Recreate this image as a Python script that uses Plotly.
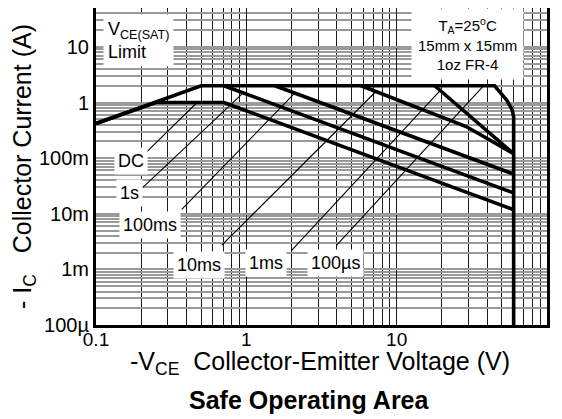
import numpy as np
import plotly.graph_objects as go

# ---- Data (V in volts, I in amps) ----
dc_v = [0.1, 0.25, 0.71, 60]
dc_i = [0.42, 1.0, 1.0, 0.0118]
s1_v = [0.71, 60]
s1_i = [2.0, 0.0237]
ms100_v = [1.55, 60]
ms100_i = [2.0, 0.0517]
ms10_v = [5.8, 29, 60]
ms10_i = [2.0, 0.37, 0.12]
ms1_v = [17.9, 60]
ms1_i = [2.0, 0.12]
us100_v = [0.1, 0.5, 44.8, 54, 58.5, 60, 60]
us100_i = [0.42, 2.0, 2.0, 1.1, 0.75, 0.55, 1e-4]

# Axis ticks
x_tickvals = [0.1, 1, 10, 100]
x_ticktext = ["0.1", "1", "10", "100"]
y_tickvals = [1e-4, 1e-3, 1e-2, 1e-1, 1, 10]
y_ticktext = ["100\u00b5", "1m", "10m", "100m", "1", "10"]

# Curve labels and leader lines
label_text = ["DC", "1s", "100ms", "10ms", "1ms", "100\u00b5s"]
label_v = [0.171, 0.168, 0.229, 0.483, 1.35, 3.94]
label_i = [0.0906, 0.0232, 0.0062, 0.00119, 0.00129, 0.00129]
leader_v0 = [0.215, 0.205, 0.372, 0.687, 2.0, 3.99]
leader_i0 = [0.126, 0.0297, 0.012, 0.00272, 0.0022, 0.00272]
leader_v1 = [0.47, 0.95, 2.1, 7.25, 19.3, 37.8]
leader_i1 = [1.0, 1.47, 1.48, 1.56, 1.6, 2.0]

FONT = "Liberation Sans, Arial, sans-serif"

fig = go.Figure()

# thin leader lines
for k in range(len(label_text)):
    fig.add_trace(go.Scatter(
        x=[leader_v0[k], leader_v1[k]], y=[leader_i0[k], leader_i1[k]],
        mode="lines", line=dict(color="black", width=1.1),
        showlegend=False, hoverinfo="skip"))

# thick SOA curves
for vv, ii in [(dc_v, dc_i), (s1_v, s1_i), (ms100_v, ms100_i),
               (ms10_v, ms10_i), (ms1_v, ms1_i), (us100_v, us100_i)]:
    fig.add_trace(go.Scatter(
        x=vv, y=ii, mode="lines",
        line=dict(color="black", width=3.6),
        showlegend=False, hoverinfo="skip"))

annotations = []
for t, v, i in zip(label_text, label_v, label_i):
    annotations.append(dict(
        x=float(np.log10(v)), y=float(np.log10(i)), xref="x", yref="y",
        text=t, showarrow=False, font=dict(family=FONT, size=18, color="black"),
        bgcolor="white", borderpad=3))

annotations.append(dict(
    x=0.0155, y=0.981, xref="paper", yref="paper", xanchor="left", yanchor="top",
    align="left", text="V<sub>CE(SAT)</sub><br>Limit", showarrow=False,
    font=dict(family=FONT, size=18, color="black"), bgcolor="white", borderpad=4))

annotations.append(dict(
    x=0.824, y=0.887, xref="paper", yref="paper", xanchor="center", yanchor="middle",
    align="center", text="T<sub>A</sub>=25<sup>o</sup>C<br>15mm x 15mm<br>1oz FR-4",
    showarrow=False, font=dict(family=FONT, size=15, color="black"),
    bgcolor="white", borderpad=6))

# x-axis title (placed precisely)
annotations.append(dict(
    x=0.496, y=-0.121, xref="paper", yref="paper", xanchor="center", yanchor="middle",
    text="-V<sub>CE</sub>\u00a0\u00a0Collector-Emitter Voltage (V)", showarrow=False,
    font=dict(family=FONT, size=25, color="black")))

# chart caption
annotations.append(dict(
    x=0.474, y=-0.238, xref="paper", yref="paper", xanchor="center", yanchor="middle",
    text="<b>Safe Operating Area</b>", showarrow=False,
    font=dict(family=FONT, size=25, color="black")))

# the page body adds an 8px offset, so the figure is drawn 8px smaller
fig.update_layout(
    width=554, height=411,
    margin=dict(l=88, r=14.5, t=0, b=94, autoexpand=False),
    paper_bgcolor="white", plot_bgcolor="white",
    font=dict(family=FONT, color="black"),
    annotations=annotations,
    xaxis=dict(
        type="log", range=[-1, 2], tickmode="array",
        tickvals=x_tickvals, ticktext=x_ticktext,
        showgrid=True, gridcolor="#1a1a1a", gridwidth=1.3,
        minor=dict(dtick="D1", showgrid=True, gridcolor="#1a1a1a", gridwidth=1.3, ticks=""),
        showline=True, mirror=True, linecolor="black", linewidth=3,
        ticks="", tickfont=dict(family=FONT, size=19, color="black"),
        ticklabelstandoff=-5,
        zeroline=False,
    ),
    yaxis=dict(
        type="log", range=[-4, np.log10(50)], tickmode="array",
        tickvals=y_tickvals, ticktext=y_ticktext,
        showgrid=True, gridcolor="#9a9a9a", gridwidth=1.5,
        minor=dict(dtick="D1", showgrid=True, gridcolor="#9a9a9a", gridwidth=1.5, ticks=""),
        showline=True, mirror=True, linecolor="black", linewidth=3,
        ticks="", tickfont=dict(family=FONT, size=20, color="black"),
        zeroline=False,
        title=dict(text="- I<sub>C</sub>\u00a0\u00a0\u00a0Collector Current (A)",
                   font=dict(family=FONT, size=25, color="black"), standoff=6),
    ),
)

fig.write_html("out.html")
